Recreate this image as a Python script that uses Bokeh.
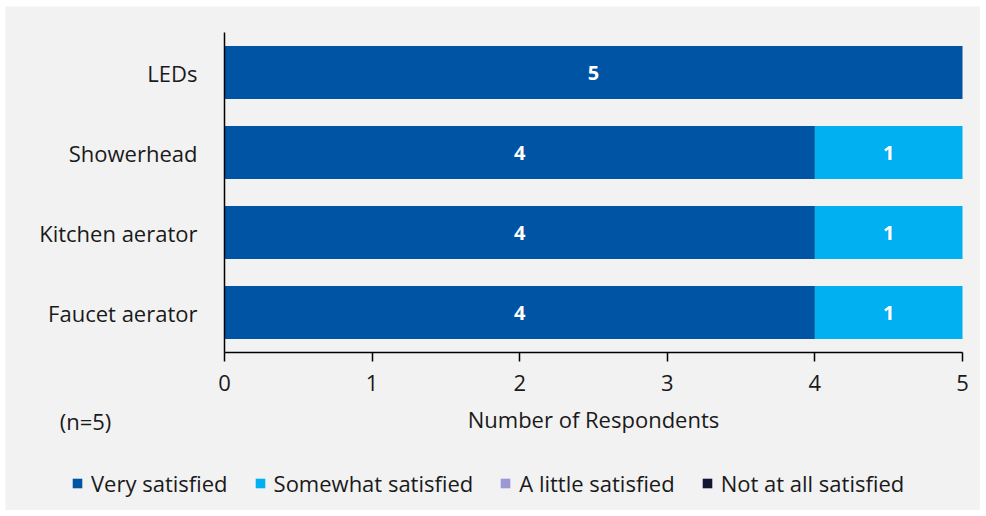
from bokeh.plotting import figure
from bokeh.models import Range1d, Label, Legend, LegendItem, ColumnDataSource, FixedTicker
from bokeh.embed import file_html
from bokeh.resources import INLINE
from bokeh.core.properties import value

categories = ["LEDs", "Showerhead", "Kitchen aerator", "Faucet aerator"]
very_satisfied = [5, 4, 4, 4]
somewhat_satisfied = [0, 1, 1, 1]
a_little_satisfied = [0, 0, 0, 0]
not_at_all_satisfied = [0, 0, 0, 0]
series_names = ["Very satisfied", "Somewhat satisfied", "A little satisfied", "Not at all satisfied"]
colors = ["#0054a4", "#00b0f0", "#9b98d6", "#141433"]
x_ticks = [0, 1, 2, 3, 4, 5]
note = "(n=5)"
x_title = "Number of Respondents"

FONT = "Open Sans"
BG = "#f2f2f2"
FS = "22px"

# layout constants (pixels)
W, H = 975, 504
LEFT_AXIS_PX = 219      # from frame left to value 0
BAR_SPAN_PX = 738       # value 0 -> 5
ROW_PX = 80             # one category row
TOP_PX = 26             # frame top to axis top

n = len(categories)
y_pos = [n - 0.5 - i for i in range(n)]
x_max = max(x_ticks)
px_per_unit = BAR_SPAN_PX / x_max
x_start = -LEFT_AXIS_PX / px_per_unit
x_end = (W - LEFT_AXIS_PX) / px_per_unit
y_end = n + TOP_PX / ROW_PX
y_start = y_end - H / ROW_PX

keys = ["very", "somewhat", "little", "notatall"]
source = ColumnDataSource(dict(y=y_pos, very=very_satisfied, somewhat=somewhat_satisfied,
                               little=a_little_satisfied, notatall=not_at_all_satisfied))

p = figure(width=W, height=H, output_backend="svg", toolbar_location=None,
           x_range=Range1d(x_start, x_end), y_range=Range1d(y_start, y_end),
           min_border_left=0, min_border_right=0, min_border_top=0, min_border_bottom=0)
p.margin = (6, 6, 6, 5)
p.background_fill_color = BG
p.border_fill_color = BG
p.outline_line_color = None
p.grid.visible = False

renderers = p.hbar_stack(keys, y="y", height=0.66, color=colors, source=source, line_color=None)

# value labels
all_series = [very_satisfied, somewhat_satisfied, a_little_satisfied, not_at_all_satisfied]
for i in range(n):
    left = 0
    for vals in all_series:
        v = vals[i]
        if v > 0:
            p.text(x=[left + v / 2], y=[y_pos[i]], text=[str(v)], text_color="white",
                   text_font=value(FONT), text_font_style="bold", text_font_size="20px",
                   text_align="center", text_baseline="middle")
        left += v

xa = p.xaxis[0]
xa.fixed_location = 0
xa.bounds = (0, x_max)
xa.ticker = FixedTicker(ticks=x_ticks)
xa.axis_line_color = "black"
xa.axis_line_width = 1.5
xa.major_tick_line_color = "black"
xa.major_tick_line_width = 1.5
xa.major_tick_out = 9
xa.major_tick_in = 0
xa.minor_tick_line_color = None
xa.major_label_text_font = FONT
xa.major_label_text_font_size = FS
xa.major_label_text_color = "#1a1a1a"
xa.major_label_standoff = 13
xa.axis_label = x_title
xa.axis_label_text_font = FONT
xa.axis_label_text_font_size = FS
xa.axis_label_text_font_style = "normal"
xa.axis_label_text_color = "#1a1a1a"
xa.axis_label_standoff = 10

ya = p.yaxis[0]
ya.fixed_location = 0
ya.bounds = (0, n)
ya.ticker = FixedTicker(ticks=y_pos)
ya.major_label_overrides = {yp: c for yp, c in zip(y_pos, categories)}
ya.axis_line_color = "black"
ya.axis_line_width = 1.5
ya.major_tick_line_color = None
ya.minor_tick_line_color = None
ya.major_label_text_font = FONT
ya.major_label_text_font_size = FS
ya.major_label_text_color = "#1a1a1a"
ya.major_label_standoff = 21

p.add_layout(Label(x=80, y=90, x_units="screen", y_units="screen", text=note,
                   text_font=FONT, text_font_size=FS, text_color="#1a1a1a",
                   text_align="center", text_baseline="middle"))

items = [LegendItem(label=nm, renderers=[r]) for nm, r in zip(series_names, renderers)]
legend = Legend(items=items, orientation="horizontal", location=(66, 12),
                background_fill_alpha=0, border_line_color=None,
                label_text_font=FONT, label_text_font_size=FS, label_text_color="#1a1a1a",
                glyph_width=12, glyph_height=12, spacing=26, label_standoff=8, padding=0,
                margin=0)
p.add_layout(legend, "center")

open("out.html", "w").write(file_html(p, INLINE))
